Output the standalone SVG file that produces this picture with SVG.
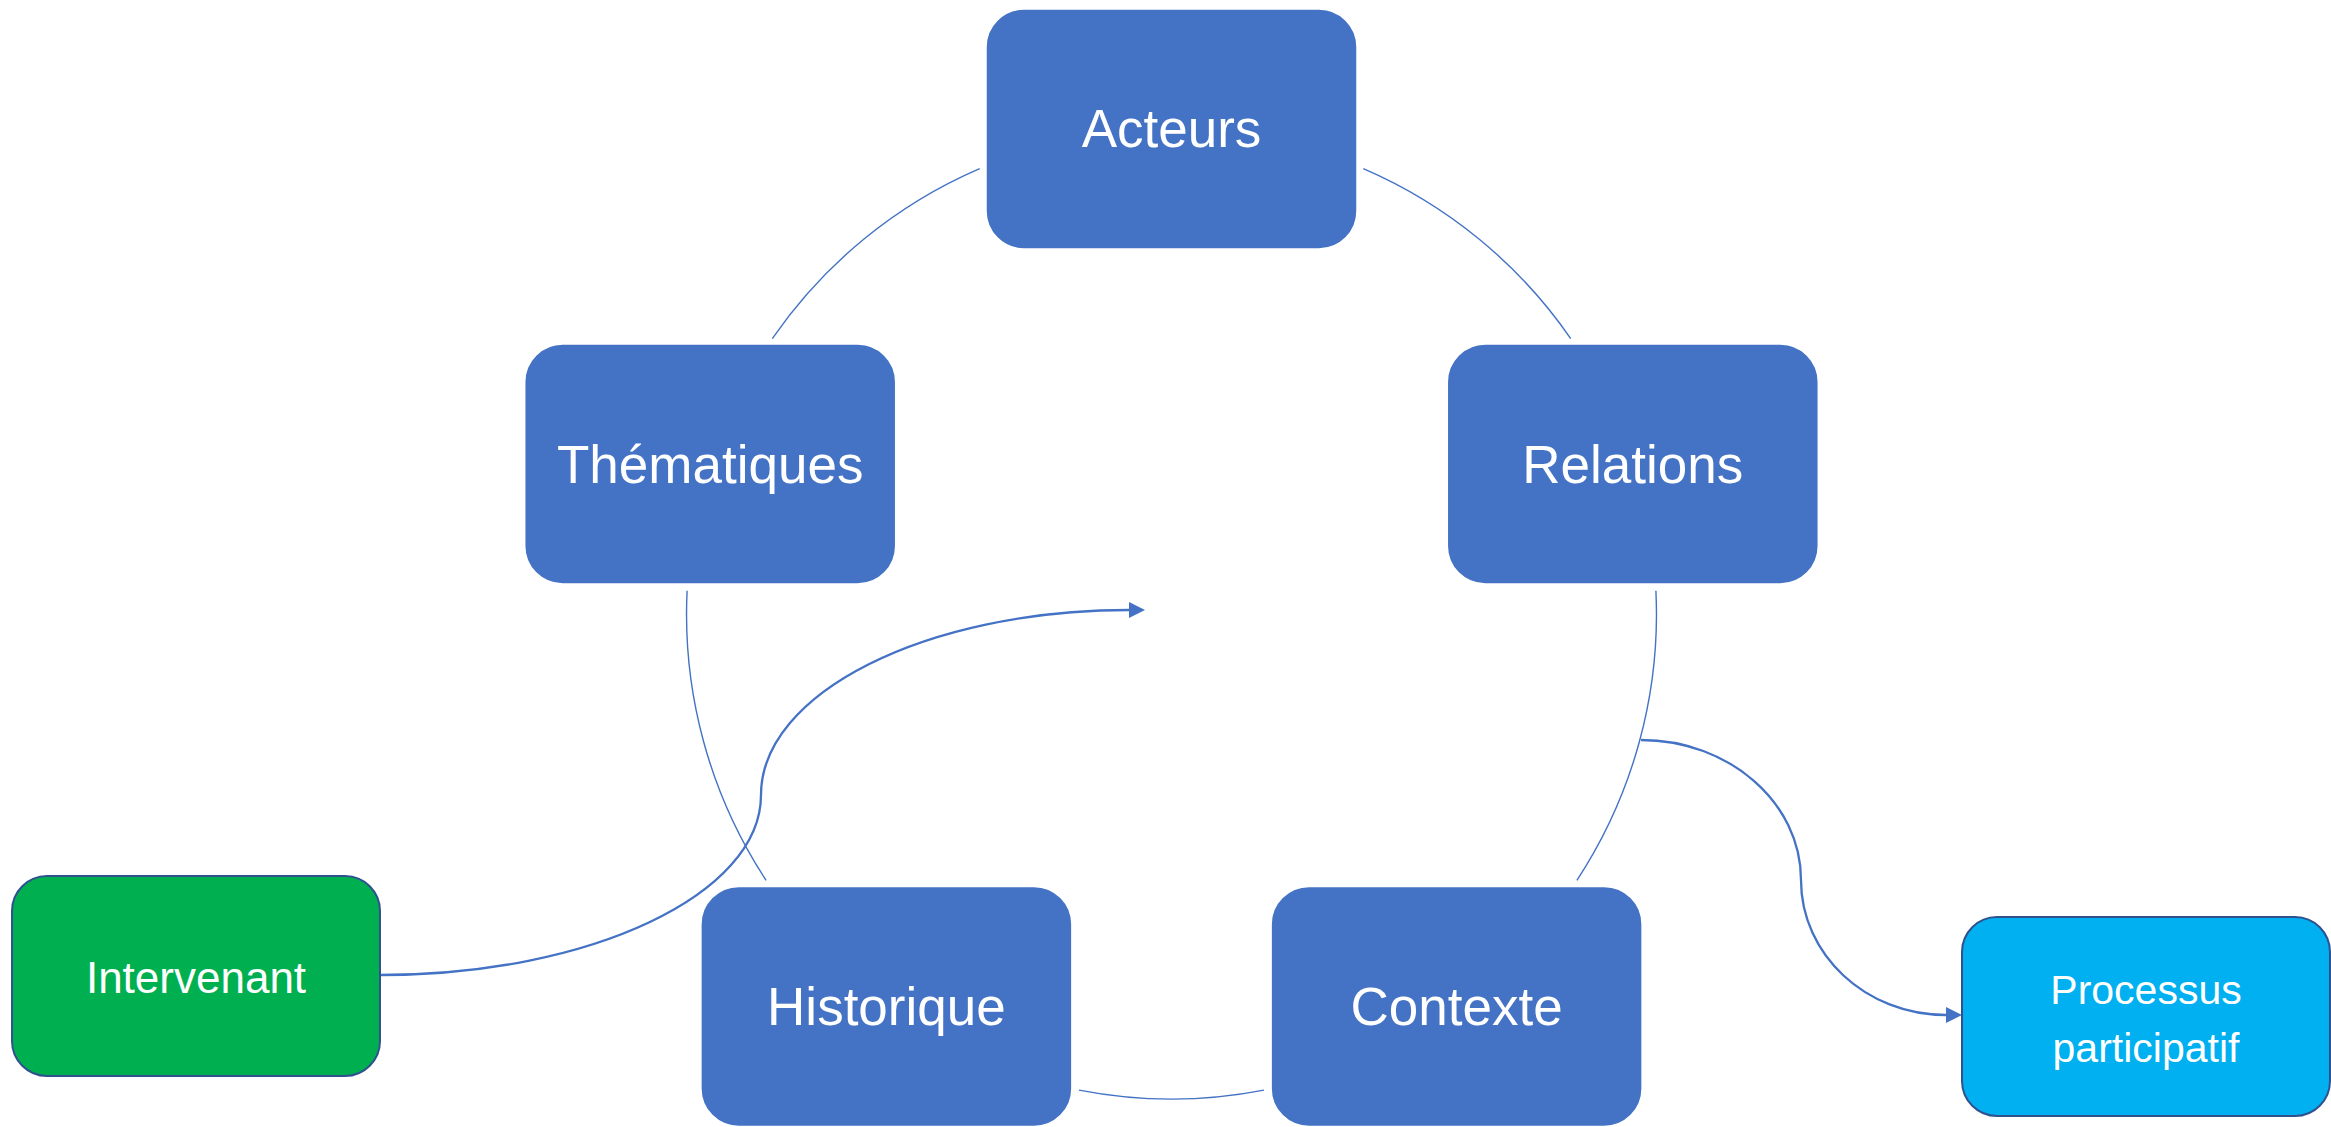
<svg xmlns="http://www.w3.org/2000/svg" width="2331" height="1127" viewBox="0 0 2331 1127">
<style>
.arc{fill:none;stroke:#4472C4;stroke-width:1.4}
.conn{fill:none;stroke:#4472C4;stroke-width:2.3}
.box{fill:#4472C4;stroke:#FFFFFF;stroke-width:1.5}
.lbl{fill:#FFFFFF;font-family:"Liberation Sans",Arial,sans-serif;font-size:53px;text-anchor:middle}
.lbl2{fill:#FFFFFF;font-family:"Liberation Sans",Arial,sans-serif;font-size:42px;text-anchor:middle}
</style>
<defs>
<marker id="arr" markerUnits="userSpaceOnUse" markerWidth="17" markerHeight="17" refX="0" refY="8" orient="auto" viewBox="0 0 17 16">
<path d="M0,0 L16,8 L0,16 Z" fill="#4472C4"/>
</marker>
</defs>
<rect width="2331" height="1127" fill="#FFFFFF"/>
<g id="cycle-arcs">
<path class="arc" d="M1363.3,168.6 A485,485 0 0 1 1570.7,338.6"/>
<path class="arc" d="M1655.9,590.7 A485,485 0 0 1 1576.9,880.3"/>
<path class="arc" d="M1264.0,1090.1 A485,485 0 0 1 1079.0,1090.1"/>
<path class="arc" d="M766.1,880.3 A485,485 0 0 1 687.1,590.7"/>
<path class="arc" d="M772.3,338.6 A485,485 0 0 1 979.7,168.6"/>
</g>
<g id="connectors">
<path class="conn" marker-end="url(#arr)" d="M380,975 C590.4,975 761,894.4 761,795 C761,692.8 925.8,610 1129,610"/>
<path class="conn" marker-end="url(#arr)" d="M1641,740 C1729.4,740 1801,802.7 1801,880 C1801,954.6 1865.9,1015 1946,1015"/>
</g>
<g id="acteurs">
<rect class="box" x="986" y="9" width="371" height="240" rx="38"/>
<text class="lbl" x="1171.5" y="147">Acteurs</text>
</g>
<g id="relations">
<rect class="box" x="1447.3" y="344" width="371" height="240" rx="38"/>
<text class="lbl" x="1632.8" y="483">Relations</text>
</g>
<g id="contexte">
<rect class="box" x="1271.1" y="886.4" width="371" height="240" rx="38"/>
<text class="lbl" x="1456.6" y="1025">Contexte</text>
</g>
<g id="historique">
<rect class="box" x="700.9" y="886.4" width="371" height="240" rx="38"/>
<text class="lbl" x="886.4" y="1025">Historique</text>
</g>
<g id="thematiques">
<rect class="box" x="524.7" y="344" width="371" height="240" rx="38"/>
<text class="lbl" x="710.2" y="483">Thématiques</text>
</g>
<g id="intervenant">
<rect x="12" y="876" width="368" height="200" rx="35" fill="#00B050" stroke="#2F528F" stroke-width="2"/>
<text class="lbl2" x="196" y="993" style="font-size:44px">Intervenant</text>
</g>
<g id="processus-participatif">
<rect x="1962" y="917" width="368" height="199" rx="35" fill="#00B0F0" stroke="#2F528F" stroke-width="2"/>
<text class="lbl2" x="2146" y="1004" style="font-size:41px">Processus</text>
<text class="lbl2" x="2146" y="1062" style="font-size:41px">participatif</text>
</g>
</svg>
